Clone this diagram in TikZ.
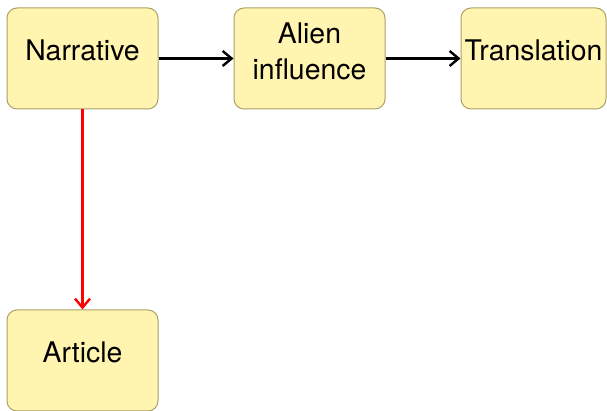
\documentclass[tikz,border=0pt]{standalone}
\usepackage{fontspec}
\setmainfont{TeX Gyre Heros}
\usepackage{xcolor}
\usetikzlibrary{positioning,shapes,arrows.meta}
\definecolor{boxfill}{HTML}{FFF4B0}
\definecolor{boxline}{HTML}{ABA067}
\tikzstyle{block} = [rectangle, rounded corners=5pt, draw=boxline, fill=boxfill, line width=0.5pt, minimum width=75.5pt, minimum height=50.5pt, inner sep=0pt, font=\fontsize{14.2pt}{18pt}\selectfont, text height=10.2pt, text depth=8.5pt]
\tikzstyle{twoline} = [align=center, text height=, text depth=]
\tikzstyle{line} = [draw, line width=1.2pt, -{Straight Barb[length=4.5pt,width=7.5pt]}]

\begin{document}
\begin{tikzpicture}[x=0.5pt, y=-0.5pt]
        \useasboundingbox (0, 0) rectangle (607, 411);
        % Place nodes
        \node at (82.5, 58.5) [block] (narrative) {Narrative};
        \node at (309.5, 58.5) [block, twoline] (alien) {Alien\\influence\rule[-7pt]{0pt}{0pt}};
        \node at (533.5, 58.5) [block, minimum width=72.5pt] (translation) {Translation};
        \node at (82.5, 360.5) [block] (article) {Article};

        % Draw edges
        \path [line] (narrative) -- (alien);
        \path [line] (alien) -- (translation);
        \path [line, draw=red] (narrative) -- (article);
    \end{tikzpicture}
\end{document}
